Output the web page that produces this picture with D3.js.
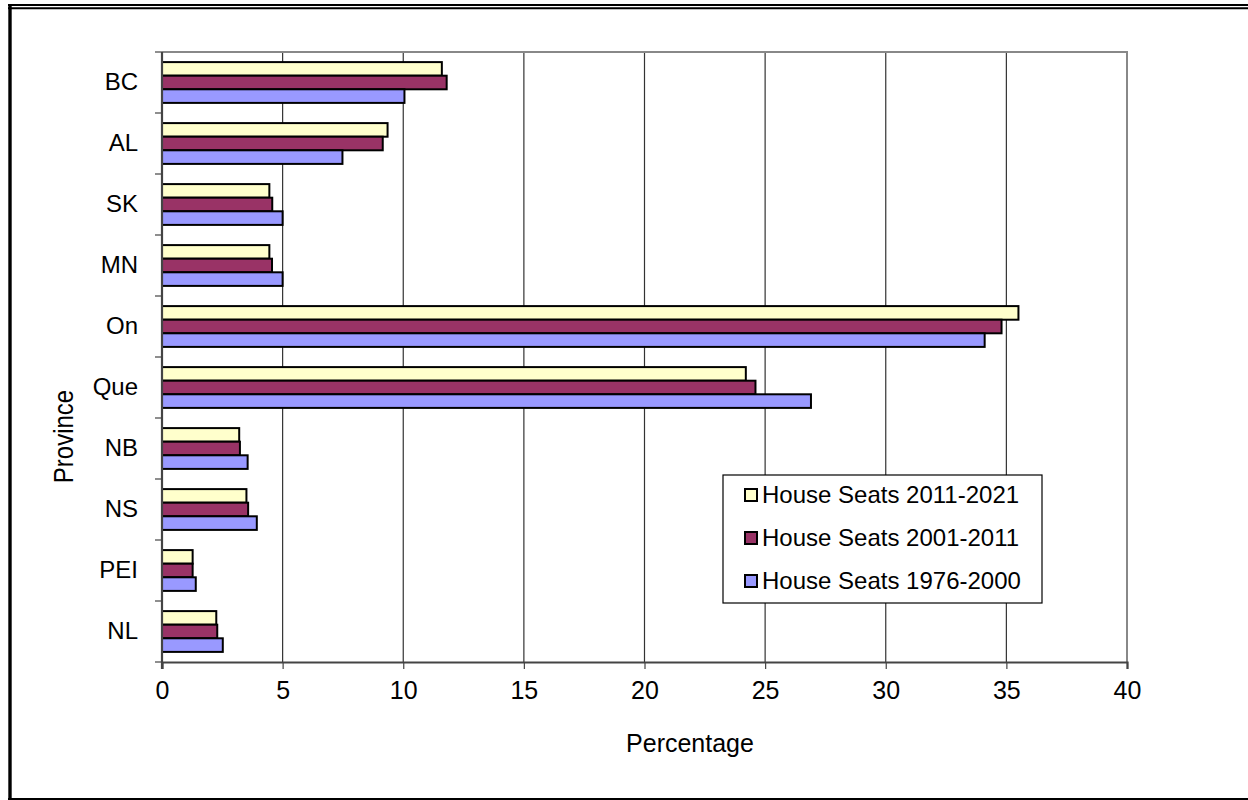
<!DOCTYPE html>
<html>
<head>
<meta charset="utf-8">
<script src="https://cdn.jsdelivr.net/npm/d3@7/dist/d3.min.js"></script>
<style>
  html, body { margin: 0; padding: 0; background: #fff; }
  svg { display: block; font-family: "Liberation Sans", Arial, sans-serif; }
</style>
</head>
<body>
<svg id="chart" width="1248" height="800"></svg>
<script>
// Provinces, top to bottom
const provinces = ["BC", "AL", "SK", "MN", "On", "Que", "NB", "NS", "PEI", "NL"];

// Share of House of Commons seats (%) per province
const seats2011 = [11.6, 9.35, 4.45, 4.45, 35.5, 24.2, 3.2, 3.5, 1.27, 2.25];
const seats2001 = [11.8, 9.15, 4.57, 4.56, 34.8, 24.6, 3.23, 3.57, 1.27, 2.29];
const seats1976 = [10.05, 7.48, 5.0, 5.0, 34.1, 26.9, 3.55, 3.93, 1.4, 2.52];

const seriesNames = ["House Seats 2011-2021", "House Seats 2001-2011", "House Seats 1976-2000"];
const seriesColors = ["#FFFFCC", "#993366", "#9999FF"];
const seriesValues = [seats2011, seats2001, seats1976];

const xTicks = [0, 5, 10, 15, 20, 25, 30, 35, 40];

const svg = d3.select("#chart");

// Outer frame: double rule on top, heavy rule left, rule at bottom
svg.append("line").attr("x1", 8).attr("x2", 1248).attr("y1", 5).attr("y2", 5)
  .attr("stroke", "#000").attr("stroke-width", 2);
svg.append("line").attr("x1", 8).attr("x2", 1248).attr("y1", 8.3).attr("y2", 8.3)
  .attr("stroke", "#000").attr("stroke-width", 2);
svg.append("line").attr("x1", 10).attr("x2", 10).attr("y1", 4).attr("y2", 800)
  .attr("stroke", "#000").attr("stroke-width", 3.4);
svg.append("line").attr("x1", 8).attr("x2", 1248).attr("y1", 799).attr("y2", 799)
  .attr("stroke", "#000").attr("stroke-width", 2);

const plot = { left: 162, right: 1127, top: 52, bottom: 662 };

const x = d3.scaleLinear().domain([0, 40]).range([plot.left, plot.right]);
const y = d3.scaleBand().domain(provinces).range([plot.top, plot.bottom]).paddingInner(0).paddingOuter(0);
const barH = 13.6;
const groupH = barH * 3;

// Vertical gridlines
svg.append("g").selectAll("line")
  .data(xTicks.filter(t => t > 0 && t < 40))
  .join("line")
  .attr("x1", d => x(d)).attr("x2", d => x(d))
  .attr("y1", plot.top).attr("y2", plot.bottom)
  .attr("stroke", "#333").attr("stroke-width", 1.2);

// Plot frame (top and right)
svg.append("path")
  .attr("d", `M${plot.left},${plot.top}H${plot.right}V${plot.bottom}`)
  .attr("fill", "none").attr("stroke", "#888").attr("stroke-width", 2);

// Bars
const groups = svg.append("g").selectAll("g")
  .data(provinces)
  .join("g")
  .attr("transform", p => `translate(0,${y(p) + (y.bandwidth() - groupH) / 2})`);

groups.selectAll("rect")
  .data((p, i) => seriesValues.map((vals, s) => ({ s, v: vals[i] })))
  .join("rect")
  .attr("x", x(0))
  .attr("y", d => d.s * barH)
  .attr("width", d => x(d.v) - x(0))
  .attr("height", barH)
  .attr("fill", d => seriesColors[d.s])
  .attr("stroke", "#000")
  .attr("stroke-width", 2);

// X axis
const xAxis = d3.axisBottom(x).tickValues(xTicks).tickSize(7).tickPadding(12).tickFormat(d3.format("d"));
const gx = svg.append("g").attr("transform", `translate(0,${plot.bottom})`).call(xAxis);
gx.select(".domain").attr("stroke", "#444").attr("stroke-width", 2.2);
gx.selectAll(".tick line").attr("stroke", "#444").attr("stroke-width", 1.2);
gx.selectAll(".tick text").attr("font-size", 25).attr("fill", "#000")
  .attr("font-family", "Liberation Sans, Arial, sans-serif");

// Y axis: category ticks sit at band boundaries
const gy = svg.append("g").attr("transform", `translate(${plot.left},0)`);
gy.append("line").attr("x1", 0).attr("x2", 0).attr("y1", plot.top).attr("y2", plot.bottom + 7)
  .attr("stroke", "#444").attr("stroke-width", 2.2);
const boundaries = provinces.map(p => y(p)).concat([plot.bottom]);
gy.selectAll("line.tk").data(boundaries).join("line").attr("class", "tk")
  .attr("x1", -7).attr("x2", 0).attr("y1", d => d).attr("y2", d => d)
  .attr("stroke", "#444").attr("stroke-width", 1.2);
gy.selectAll("text").data(provinces).join("text")
  .attr("x", -24)
  .attr("y", p => y(p) + y.bandwidth() / 2 - 1)
  .attr("dy", "0.35em")
  .attr("text-anchor", "end")
  .attr("font-size", 24)
  .attr("fill", "#000")
  .text(p => p);

// Axis titles
svg.append("text")
  .attr("x", 690)
  .attr("y", 752)
  .attr("text-anchor", "middle")
  .attr("font-size", 25)
  .text("Percentage");

svg.append("text")
  .attr("transform", "translate(72.5,436.5) rotate(-90) scale(1,1.15)")
  .attr("text-anchor", "middle")
  .attr("font-size", 24)
  .text("Province");

// Legend
const legend = svg.append("g").attr("transform", "translate(723,475)");
legend.append("rect").attr("x", 0).attr("y", 0).attr("width", 319).attr("height", 128)
  .attr("fill", "#fff").attr("stroke", "#000").attr("stroke-width", 1.2);
const items = legend.selectAll("g").data(seriesNames).join("g")
  .attr("transform", (d, i) => `translate(22,${20 + i * 43})`);
items.append("rect").attr("x", 0).attr("y", -6).attr("width", 12).attr("height", 12)
  .attr("fill", (d, i) => seriesColors[i]).attr("stroke", "#000").attr("stroke-width", 2);
items.append("text").attr("x", 17).attr("y", 0).attr("dy", "0.35em")
  .attr("font-size", 24).text(d => d);
</script>
</body>
</html>
